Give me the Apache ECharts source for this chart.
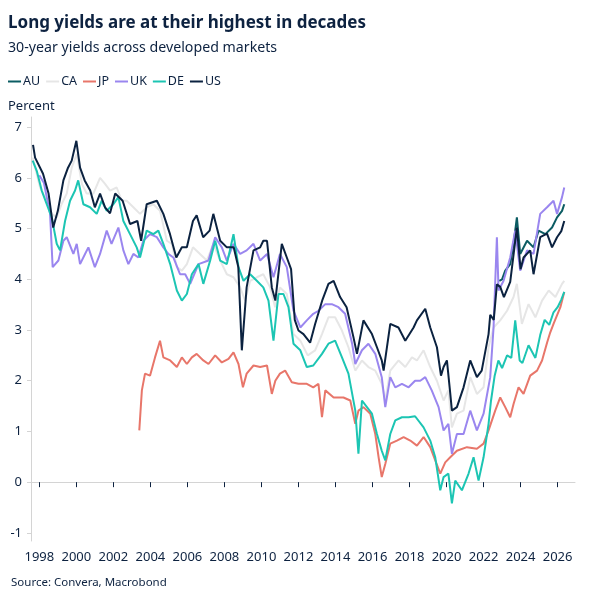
<!DOCTYPE html>
<html><head><meta charset="utf-8">
<script src="https://cdn.jsdelivr.net/npm/echarts@6/dist/echarts.min.js"></script>
<style>html,body{margin:0;padding:0;background:#fff}#c{width:591px;height:603px}</style>
</head><body><div id="c"></div>
<script>
// Decimal-year dates and yields (%) per market
var auX = [2022.85,2023.0,2023.17,2023.44,2023.62,2023.8,2023.98,2024.35,2024.7,2024.97,2025.34,2025.7,2025.97,2026.24,2026.36];
var auY = [3.97,4.0,4.17,4.3,4.7,5.22,4.5,4.76,4.63,4.96,4.89,5.02,5.22,5.35,5.48];

var caX = [1997.64,1998.04,1998.4,1998.67,1998.94,1999.2,1999.48,1999.75,2000.02,2000.3,2000.56,2000.92,2001.28,2001.55,2001.82,2002.18,2002.45,2002.72,2003.08,2003.44,2003.8,2004.16,2004.52,2004.89,2005.16,2005.43,2005.7,2005.97,2006.3,2006.68,2007.05,2007.4,2007.77,2008.13,2008.49,2008.85,2009.12,2009.39,2009.75,2010.1,2010.47,2010.74,2011.0,2011.37,2011.73,2012.1,2012.5,2012.9,2013.27,2013.62,2013.98,2014.35,2014.7,2015.07,2015.43,2015.78,2016.15,2016.5,2016.69,2016.96,2017.41,2017.77,2018.13,2018.4,2018.76,2019.12,2019.48,2019.84,2020.1,2020.29,2020.56,2020.92,2021.28,2021.64,2022.0,2022.27,2022.54,2022.9,2023.27,2023.62,2023.8,2024.07,2024.43,2024.8,2025.16,2025.52,2025.88,2026.24,2026.36];
var caY = [6.4,5.81,5.55,5.29,5.22,5.48,5.69,6.2,6.47,5.88,5.69,5.69,6.0,5.88,5.75,5.81,5.55,5.55,5.42,5.29,5.42,5.48,5.35,4.76,4.7,4.24,4.17,4.3,4.63,4.5,4.37,4.7,4.37,4.1,4.04,3.84,3.58,3.97,4.04,4.1,3.84,3.45,3.84,3.71,2.92,2.79,2.5,2.6,2.92,3.25,3.25,2.99,2.66,2.2,2.4,2.27,2.2,1.94,1.61,2.2,2.4,2.27,2.46,2.4,2.6,2.27,2.0,1.61,1.81,1.08,1.35,1.41,2.07,1.74,1.87,2.66,3.05,3.19,3.38,3.65,3.91,3.12,3.51,3.25,3.58,3.78,3.65,3.91,3.97];

var jpX = [2003.4,2003.54,2003.71,2003.98,2004.25,2004.52,2004.7,2005.07,2005.43,2005.7,2005.97,2006.24,2006.5,2006.86,2007.14,2007.5,2007.86,2008.22,2008.49,2008.76,2009.0,2009.2,2009.57,2009.93,2010.3,2010.56,2010.75,2011.0,2011.28,2011.64,2012.0,2012.45,2012.8,2013.08,2013.27,2013.45,2013.9,2014.43,2014.8,2015.07,2015.24,2015.51,2015.88,2016.15,2016.33,2016.5,2016.69,2016.96,2017.32,2017.68,2018.04,2018.4,2018.76,2019.12,2019.39,2019.66,2019.93,2020.2,2020.56,2021.1,2021.64,2022.0,2022.27,2022.63,2022.9,2023.17,2023.44,2023.62,2023.89,2024.16,2024.52,2024.89,2025.16,2025.43,2025.6,2025.78,2026.15,2026.36];
var jpY = [1.02,1.81,2.14,2.1,2.46,2.79,2.46,2.4,2.27,2.46,2.33,2.46,2.53,2.4,2.33,2.5,2.36,2.43,2.56,2.33,1.87,2.14,2.3,2.27,2.3,1.74,2.0,2.14,2.2,1.97,1.94,1.94,1.87,1.94,1.28,1.81,1.67,1.67,1.61,1.15,1.41,1.48,1.35,0.95,0.49,0.1,0.36,0.76,0.82,0.89,0.82,0.72,0.89,0.69,0.43,0.17,0.39,0.49,0.62,0.69,0.66,0.76,1.02,1.41,1.67,1.48,1.28,1.54,1.87,1.74,2.1,2.2,2.4,2.75,2.95,3.12,3.45,3.75];

var ukX = [1998.0,1998.25,1998.58,1998.72,1999.03,1999.3,1999.48,1999.84,2000.02,2000.2,2000.47,2000.65,2001.0,2001.28,2001.64,2001.9,2002.27,2002.54,2002.81,2003.08,2003.35,2003.62,2003.98,2004.35,2004.7,2004.97,2005.24,2005.6,2005.88,2006.15,2006.6,2007.14,2007.5,2007.86,2008.13,2008.49,2008.85,2009.2,2009.57,2009.93,2010.3,2010.65,2011.0,2011.37,2011.73,2012.1,2012.45,2012.8,2013.08,2013.45,2013.8,2014.16,2014.52,2014.9,2015.07,2015.43,2015.78,2016.15,2016.5,2016.69,2016.96,2017.23,2017.59,2017.95,2018.3,2018.58,2018.85,2019.2,2019.57,2019.84,2020.1,2020.29,2020.56,2020.92,2021.28,2021.64,2022.0,2022.36,2022.54,2022.72,2022.81,2023.08,2023.44,2023.71,2023.98,2024.35,2024.7,2025.06,2025.43,2025.78,2025.97,2026.24,2026.36];
var ukY = [6.05,5.9,5.29,4.24,4.37,4.76,4.83,4.5,4.7,4.3,4.5,4.63,4.24,4.5,4.96,4.7,5.02,4.57,4.3,4.5,4.43,4.76,4.89,4.83,4.63,4.5,4.43,4.1,4.1,3.91,4.3,4.37,4.83,4.63,4.37,4.7,4.5,4.57,4.7,4.37,4.5,4.04,4.5,4.24,3.38,3.05,3.19,3.32,3.38,3.51,3.51,3.45,3.32,2.73,2.33,2.6,2.73,2.53,2.07,1.48,2.07,1.87,1.94,1.87,2.0,2.0,2.07,1.81,1.48,1.02,1.15,0.56,0.95,0.95,1.41,1.02,1.35,2.07,3.05,4.83,3.78,3.97,4.43,4.96,4.17,4.57,4.5,5.29,5.42,5.55,5.29,5.62,5.81];

var deX = [1997.64,1997.86,1998.13,1998.4,1998.67,1998.94,1999.12,1999.39,1999.66,1999.93,2000.1,2000.38,2000.74,2001.1,2001.37,2001.64,2002.0,2002.27,2002.54,2002.9,2003.26,2003.44,2003.8,2004.16,2004.43,2004.7,2005.07,2005.43,2005.7,2005.97,2006.24,2006.6,2006.86,2007.23,2007.5,2007.77,2008.13,2008.49,2008.76,2009.03,2009.39,2009.75,2010.1,2010.38,2010.65,2010.92,2011.19,2011.46,2011.73,2012.1,2012.45,2012.8,2013.27,2013.62,2013.98,2014.35,2014.7,2015.07,2015.24,2015.43,2015.7,2015.97,2016.24,2016.5,2016.69,2016.96,2017.23,2017.59,2017.95,2018.3,2018.76,2019.12,2019.39,2019.66,2019.84,2020.1,2020.29,2020.47,2020.83,2021.19,2021.46,2021.73,2022.0,2022.27,2022.4,2022.6,2022.8,2023.0,2023.27,2023.5,2023.71,2023.95,2024.1,2024.43,2024.8,2025.06,2025.3,2025.55,2025.78,2026.0,2026.2,2026.36];
var deY = [6.34,6.14,5.75,5.48,5.22,4.7,4.57,5.15,5.55,5.75,5.95,5.48,5.42,5.29,5.55,5.35,5.48,5.62,5.15,4.89,4.63,4.43,4.96,4.89,4.96,4.7,4.3,3.78,3.58,3.71,4.1,4.3,3.91,4.37,4.76,4.37,4.3,4.89,4.24,3.97,4.1,3.97,3.84,3.58,2.79,3.71,3.71,3.45,2.73,2.6,2.27,2.3,2.53,2.73,2.79,2.46,2.14,1.41,0.56,1.61,1.48,1.35,0.95,0.62,0.43,0.95,1.22,1.28,1.28,1.3,1.08,0.82,0.49,-0.16,0.1,0.17,-0.42,0.03,-0.16,0.17,0.49,0.03,0.49,1.15,1.6,2.1,2.4,2.25,2.5,2.45,3.19,2.4,2.35,2.7,2.45,2.9,3.2,3.1,3.35,3.45,3.6,3.75];

var usX = [1997.66,1997.77,1998.2,1998.5,1998.75,1999.0,1999.3,1999.55,1999.75,2000.0,2000.2,2000.45,2000.75,2001.0,2001.28,2001.55,2001.82,2002.1,2002.5,2002.9,2003.3,2003.5,2003.8,2004.35,2004.7,2005.06,2005.4,2005.7,2005.97,2006.3,2006.5,2006.85,2007.2,2007.4,2007.77,2008.13,2008.5,2008.75,2008.94,2009.2,2009.57,2009.93,2010.1,2010.3,2010.56,2010.75,2011.1,2011.37,2011.6,2011.8,2012.0,2012.27,2012.63,2012.9,2013.3,2013.62,2013.9,2014.25,2014.6,2014.97,2015.16,2015.51,2015.97,2016.24,2016.5,2016.6,2016.96,2017.4,2017.77,2018.22,2018.4,2018.85,2019.12,2019.48,2019.7,2019.84,2020.02,2020.2,2020.29,2020.56,2020.92,2021.28,2021.64,2021.9,2022.27,2022.36,2022.55,2022.72,2022.9,2023.1,2023.44,2023.8,2024.0,2024.16,2024.52,2024.7,2025.06,2025.43,2025.7,2025.97,2026.2,2026.36];
var usY = [6.65,6.4,6.08,5.69,5.02,5.35,5.95,6.2,6.34,6.73,6.2,5.95,5.75,5.42,5.69,5.42,5.3,5.69,5.55,5.09,5.15,4.76,5.48,5.55,5.29,4.89,4.43,4.63,4.63,5.15,5.26,4.83,4.96,5.29,4.76,4.63,4.63,4.24,2.6,3.84,4.57,4.63,4.76,4.76,3.84,3.58,4.7,4.43,4.2,3.2,2.99,2.92,2.75,3.12,3.6,3.91,3.97,3.65,3.45,2.86,2.53,3.19,2.92,2.66,2.4,2.2,3.12,3.05,2.79,3.05,3.19,3.42,3.05,2.66,2.1,2.27,2.4,1.75,1.41,1.48,1.87,2.4,2.07,2.2,2.92,3.3,3.2,3.9,3.85,3.65,3.95,5.02,4.2,4.43,4.57,4.1,4.83,4.9,4.63,4.83,4.95,5.15];

var yearTicks = [1998,2000,2002,2004,2006,2008,2010,2012,2014,2016,2018,2020,2022,2024,2026];
var valueTicks = [-1,0,1,2,3,4,5,6,7];

var NAVY = '#0d2240';
var FONT = 'Noto Sans';

function pairs(xs, ys){ return xs.map(function(x,i){ return [x, ys[i]]; }); }

var seriesDefs = [
  {name:'AU', x:auX, y:auY, color:'#0b5c63'},
  {name:'CA', x:caX, y:caY, color:'#e6e6e6'},
  {name:'JP', x:jpX, y:jpY, color:'#e8766a'},
  {name:'UK', x:ukX, y:ukY, color:'#9a86ef'},
  {name:'DE', x:deX, y:deY, color:'#1cc5b3'},
  {name:'US', x:usX, y:usY, color:'#0b2240'}
];

var chart = echarts.init(document.getElementById('c'), null, {renderer:'canvas'});
chart.setOption({
  animation:false,
  backgroundColor:'#fff',
  textStyle:{fontFamily:FONT, color:NAVY},
  title:{
    text:'Long yields are at their highest in decades',
    subtext:'30-year yields across developed markets',
    left:3, top:10, itemGap:9,
    textStyle:{fontFamily:FONT, fontSize:17, fontWeight:'bold', color:NAVY},
    subtextStyle:{fontFamily:FONT, fontSize:14.2, color:NAVY}
  },
  legend:{
    left:3, top:70, itemWidth:13, itemHeight:2, itemGap:6, icon:'rect',
    textStyle:{fontFamily:FONT, fontSize:12.5, color:NAVY, padding:[0,0,0,-3]},
    data:seriesDefs.map(function(s){return s.name;})
  },
  graphic:[
    {type:'text', left:8, top:100, style:{text:'Percent', font:'13px "Noto Sans"', fill:NAVY}},
    {type:'text', left:11, top:577, style:{text:'Source: Convera, Macrobond', font:'11.5px "Noto Sans"', fill:NAVY}}
  ],
  grid:{left:31, right:16, top:117, bottom:62},
  xAxis:{
    type:'value', min:1997.55, max:2026.94,
    axisLine:{show:true, lineStyle:{color:'#d4d4d4'}},
    axisTick:{show:true, customValues:yearTicks, length:5, lineStyle:{color:NAVY}},
    axisLabel:{customValues:yearTicks, formatter:function(v){return String(Math.round(v));}, fontSize:13, color:NAVY, fontFamily:FONT, margin:10},
    splitLine:{show:false}
  },
  yAxis:{
    type:'value', min:-1.16, max:7.2,
    axisLine:{show:true, lineStyle:{color:'#d4d4d4'}},
    axisTick:{show:true, customValues:valueTicks, length:4, lineStyle:{color:'#d4d4d4'}},
    axisLabel:{customValues:valueTicks, fontSize:13, color:NAVY, fontFamily:FONT, margin:9},
    splitLine:{show:false}
  },
  series:seriesDefs.map(function(s){
    return {name:s.name, type:'line', data:pairs(s.x, s.y), showSymbol:false, symbol:'none',
      lineStyle:{color:s.color, width:2}, itemStyle:{color:s.color}, emphasis:{disabled:true}};
  })
});
</script></body></html>
